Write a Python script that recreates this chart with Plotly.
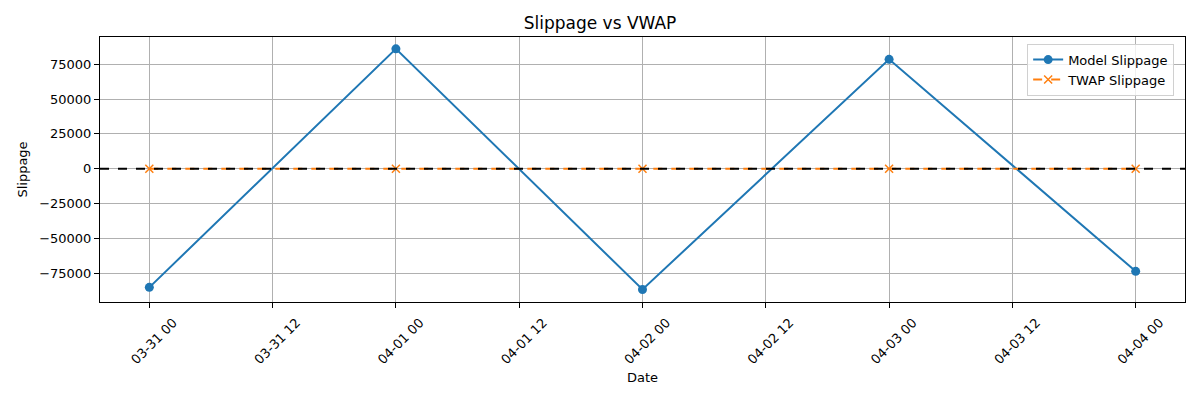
import plotly.graph_objects as go

dates = ["2024-03-31 00:00", "2024-04-01 00:00", "2024-04-02 00:00", "2024-04-03 00:00", "2024-04-04 00:00"]
model_slippage = [-85000, 86000, -86500, 78500, -73500]
twap_slippage = [0, 0, 0, 0, 0]
y_ticks = [-75000, -50000, -25000, 0, 25000, 50000, 75000]
y_tick_labels = ["\u221275000", "\u221250000", "\u221225000", "0", "25000", "50000", "75000"]
x_ticks = ["2024-03-31 00:00", "2024-03-31 12:00", "2024-04-01 00:00", "2024-04-01 12:00",
           "2024-04-02 00:00", "2024-04-02 12:00", "2024-04-03 00:00", "2024-04-03 12:00",
           "2024-04-04 00:00"]
x_tick_labels = ["03-31 00", "03-31 12", "04-01 00", "04-01 12", "04-02 00", "04-02 12",
                 "04-03 00", "04-03 12", "04-04 00"]

font = "DejaVu Sans"
fig = go.Figure()
fig.add_trace(go.Scatter(x=dates, y=model_slippage, mode="lines+markers", name="Model Slippage",
                         line=dict(color="#1f77b4", width=2),
                         marker=dict(symbol="circle", size=9, color="#1f77b4")))
fig.add_trace(go.Scatter(x=dates, y=twap_slippage, mode="lines+markers", name="TWAP Slippage",
                         line=dict(color="#ff7f0e", width=2, dash="dash"),
                         marker=dict(symbol="x-thin", size=8, color="#ff7f0e",
                                     line=dict(color="#ff7f0e", width=1.5))))
fig.add_shape(type="line", xref="paper", x0=0, x1=1, yref="y", y0=0, y1=0,
              line=dict(color="black", width=2, dash="dash"), layer="above")

# page body has an 8px default margin; figure sized so the plot area lands like the reference
fig.update_layout(
    width=1184, height=384,
    margin=dict(l=92, r=7, t=29, b=90),
    paper_bgcolor="white", plot_bgcolor="white",
    font=dict(family=font, size=13, color="black"),
    title=dict(text="Slippage vs VWAP", x=0.5, xanchor="center", y=0.961, yanchor="middle",
               font=dict(size=17, family=font, color="black")),
    showlegend=True,
    legend=dict(x=0.99, y=0.975, xanchor="right", yanchor="top",
                bgcolor="rgba(255,255,255,0.8)", bordercolor="#d0d0d0", borderwidth=1,
                font=dict(size=13, family=font), itemwidth=30, tracegroupgap=0),
    xaxis=dict(type="date", range=["2024-03-30 19:12", "2024-04-04 04:48"],
               tickvals=x_ticks, ticktext=x_tick_labels, tickangle=-45,
               ticklabelshift=24, ticklabelstandoff=2,
               showgrid=True, gridcolor="#b0b0b0", gridwidth=1,
               showline=True, linecolor="black", linewidth=1, mirror=True,
               ticks="outside", ticklen=5, tickcolor="black", zeroline=False,
               automargin=False,
               title=dict(text="Date", font=dict(size=13, family=font), standoff=6)),
    yaxis=dict(range=[-95500, 94500], tickvals=y_ticks, ticktext=y_tick_labels,
               showgrid=True, gridcolor="#b0b0b0", gridwidth=1,
               showline=True, linecolor="black", linewidth=1, mirror=True,
               ticks="outside", ticklen=5, tickcolor="black", zeroline=False,
               automargin=False,
               title=dict(text="Slippage", font=dict(size=13, family=font), standoff=8)),
)
fig.write_html("out.html")
